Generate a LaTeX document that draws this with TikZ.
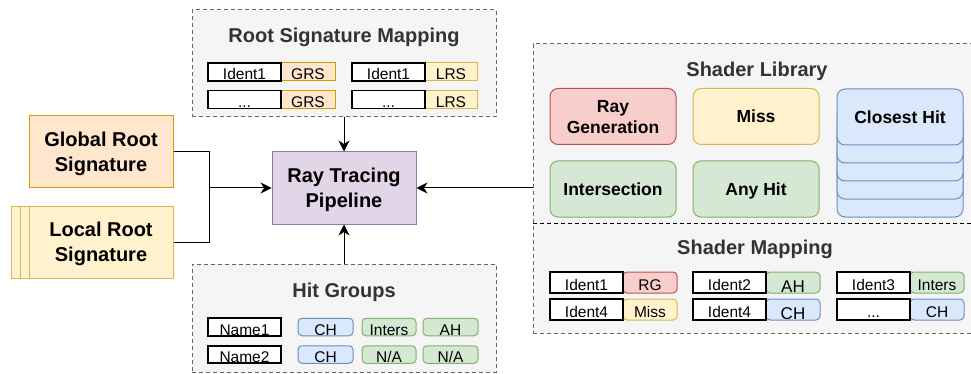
\documentclass[tikz,border=0pt]{standalone}
\usepackage{fontspec}
\setmainfont{Liberation Sans}
\usepackage{tikz}
\usetikzlibrary{arrows.meta, positioning, calc}
\usepackage{xcolor}
\definecolor{groupfill}{HTML}{F5F5F5}
\definecolor{groupline}{HTML}{666666}
\definecolor{titlegray}{HTML}{333333}
\definecolor{orangefill}{HTML}{FFE6CC}
\definecolor{orangeline}{HTML}{D79B00}
\definecolor{yellowfill}{HTML}{FFF2CC}
\definecolor{yellowline}{HTML}{D6B656}
\definecolor{redfill}{HTML}{F8CECC}
\definecolor{redline}{HTML}{B85450}
\definecolor{greenfill}{HTML}{D5E8D4}
\definecolor{greenline}{HTML}{82B366}
\definecolor{bluefill}{HTML}{DAE8FC}
\definecolor{blueline}{HTML}{6C8EBF}
\definecolor{purplefill}{HTML}{E1D5E7}
\definecolor{purpleline}{HTML}{9673A6}

\begin{document}
\begin{tikzpicture}[x=1pt, y=-1pt, >={Stealth[length=11pt,width=11pt,inset=3.5pt]}]
        \tikzstyle{group}=[draw=groupline, fill=groupfill, dash pattern=on 4pt off 3pt, line width=1pt, inner sep=0pt]
        \tikzstyle{grouptitle}=[text=titlegray, font=\fontsize{20}{24}\selectfont\bfseries, inner sep=0pt]
        \tikzstyle{bigbox}=[draw, line width=1pt, minimum width=144pt, minimum height=72pt, align=center, inner sep=0pt, text depth=-4pt, font=\fontsize{20}{25}\selectfont\bfseries]
        \tikzstyle{shader}=[draw, line width=1pt, rounded corners=8pt, minimum width=126pt, minimum height=56pt, align=center, inner sep=0pt, text depth=-6pt, font=\fontsize{17.5}{21}\selectfont\bfseries]
        \tikzstyle{ident}=[draw=black, fill=white, line width=1.6pt, minimum width=73pt, inner sep=0pt, text height=16pt, text depth=0pt, font=\fontsize{15.5}{18}\selectfont]
        \tikzstyle{tag}=[draw, line width=1pt, inner sep=0pt, text height=16pt, text depth=0pt, font=\fontsize{15.5}{18}\selectfont]
        \useasboundingbox (0,0) rectangle (971,374);

        % Root signatures on the left
        \node (grs)[bigbox, fill=orangefill, draw=orangeline] at (101,152) {Global Root\\Signature};
        \node (lrs3)[bigbox, fill=yellowfill, draw=yellowline] at (83,242) {};
        \node (lrs2)[bigbox, fill=yellowfill, draw=yellowline] at (92,242) {};
        \node (lrs)[bigbox, fill=yellowfill, draw=yellowline] at (101,242) {Local Root\\Signature};

        % Pipeline in the middle
        \node (rtp)[bigbox, fill=purplefill, draw=purpleline] at (344,188) {Ray Tracing\\Pipeline};

        % Root Signature Mapping
        \node (rsm)[group, minimum width=304pt, minimum height=107pt] at (344,63.5) {};
        \node (rsmtitle)[grouptitle] at (344,37) {Root Signature Mapping};
        \node (grs1)[tag, fill=orangefill, draw=orangeline, minimum width=54pt, minimum height=18pt] at (308,72) {GRS};
        \node (grs2)[tag, fill=orangefill, draw=orangeline, minimum width=54pt, minimum height=18pt] at (308,99.5) {GRS};
        \node (lrs1)[tag, fill=yellowfill, draw=yellowline, minimum width=52pt, minimum height=18pt] at (451,72) {LRS};
        \node (lrs2tag)[tag, fill=yellowfill, draw=yellowline, minimum width=52pt, minimum height=18pt] at (451,99.5) {LRS};
        \node (rid1)[ident, minimum height=18pt] at (244.5,72) {Ident1};
        \node (rid2)[ident, minimum height=18pt] at (244.5,99.5) {...};
        \node (rid3)[ident, minimum height=18pt] at (388.5,72) {Ident1};
        \node (rid4)[ident, minimum height=18pt] at (388.5,99.5) {...};

        % Hit Groups
        \node (hg)[group, minimum width=304pt, minimum height=108pt] at (344,318) {};
        \node (hgtitle)[grouptitle] at (344,292) {Hit Groups};
        \node (name1)[ident, minimum height=17.5pt] at (244.5,327) {Name1};
        \node (name2)[ident, minimum height=17.5pt] at (244.5,354.5) {Name2};
        \node (hgch1)[tag, rounded corners=4pt, fill=bluefill, draw=blueline, minimum width=55pt, minimum height=17.5pt] at (325.5,327) {CH};
        \node (hgch2)[tag, rounded corners=4pt, fill=bluefill, draw=blueline, minimum width=55pt, minimum height=17.5pt] at (325.5,354.5) {CH};
        \node (hgis1)[tag, rounded corners=4pt, fill=greenfill, draw=greenline, minimum width=54pt, minimum height=17.5pt] at (389,327) {Inters};
        \node (hgis2)[tag, rounded corners=4pt, fill=greenfill, draw=greenline, minimum width=54pt, minimum height=17.5pt] at (389,354.5) {N/A};
        \node (hgah1)[tag, rounded corners=4pt, fill=greenfill, draw=greenline, minimum width=55pt, minimum height=17.5pt] at (450.5,327) {AH};
        \node (hgah2)[tag, rounded corners=4pt, fill=greenfill, draw=greenline, minimum width=55pt, minimum height=17.5pt] at (450.5,354.5) {N/A};

        % Shader Library and Shader Mapping
        \node (shaders)[group, minimum width=447pt, minimum height=289pt] at (756.5,188.5) {};
        \draw[dash pattern=on 4pt off 3pt, line width=1pt] (533,223) -- (980,223);
        \node (libtitle)[grouptitle] at (757,71) {Shader Library};
        \node (rg)[shader, fill=redfill, draw=redline] at (613,116.5) {Ray\\Generation};
        \node (miss)[shader, fill=yellowfill, draw=yellowline] at (756,116.5) {Miss};
        \node (inter)[shader, fill=greenfill, draw=greenline] at (613,189) {Intersection};
        \node (anyhit)[shader, fill=greenfill, draw=greenline] at (756,189) {Any Hit};
        \node (ch4)[shader, fill=bluefill, draw=blueline] at (900,189) {};
        \node (ch3)[shader, fill=bluefill, draw=blueline] at (900,171) {};
        \node (ch2)[shader, fill=bluefill, draw=blueline] at (900,153) {};
        \node (ch1)[shader, fill=bluefill, draw=blueline] at (900,135) {};
        \node (ch)[shader, fill=bluefill, draw=blueline] at (900,117) {Closest Hit};

        \node (maptitle)[grouptitle] at (755,249) {Shader Mapping};
        \node (smrg)[tag, rounded corners=4pt, fill=redfill, draw=redline, minimum width=54pt, minimum height=21pt] at (650,282.5) {RG};
        \node (smmiss)[tag, rounded corners=4pt, fill=yellowfill, draw=yellowline, minimum width=54pt, minimum height=21pt] at (650,309.5) {Miss};
        \node (smah)[tag, rounded corners=4pt, fill=greenfill, draw=greenline, minimum width=54pt, minimum height=21pt, font=\fontsize{17}{18}\selectfont, text height=19pt] at (793,282.5) {AH};
        \node (smch)[tag, rounded corners=4pt, fill=bluefill, draw=blueline, minimum width=54pt, minimum height=21pt, font=\fontsize{17}{18}\selectfont, text height=19pt] at (793,309.5) {CH};
        \node (smis)[tag, rounded corners=4pt, fill=greenfill, draw=greenline, minimum width=54pt, minimum height=21pt] at (937,282.5) {Inters};
        \node (smch2)[tag, rounded corners=4pt, fill=bluefill, draw=blueline, minimum width=54pt, minimum height=21pt] at (937,309.5) {CH};
        \node (sid1)[ident, minimum height=21pt] at (586.5,282.5) {Ident1};
        \node (sid4)[ident, minimum height=21pt] at (586.5,309.5) {Ident4};
        \node (sid2)[ident, minimum height=21pt] at (729.5,282.5) {Ident2};
        \node (sid5)[ident, minimum height=21pt] at (729.5,309.5) {Ident4};
        \node (sid3)[ident, minimum height=21pt] at (873.5,282.5) {Ident3};
        \node (sid6)[ident, minimum height=21pt] at (873.5,309.5) {...};

        % Connectors into the pipeline
        \coordinate (join) at (209,188);
        \draw[line width=1pt] (grs.east) -| (join);
        \draw[line width=1pt] (lrs.east) -| (join);
        \draw[->, line width=1pt] (join) -- (rtp.west);
        \draw[->, line width=1pt] (rsm.south) -- (rtp.north);
        \draw[->, line width=1pt] (hg.north) -- (rtp.south);
        \draw[->, line width=1pt] (shaders.west |- rtp.east) -- (rtp.east);
    \end{tikzpicture}
\end{document}
